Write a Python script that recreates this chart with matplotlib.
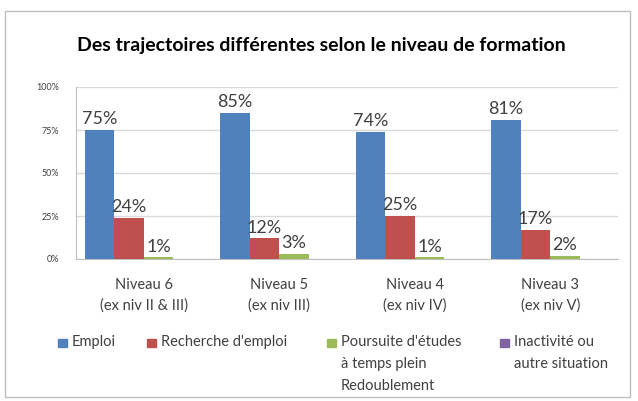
import matplotlib.pyplot as plt
import numpy as np
from matplotlib.patches import Rectangle

# data
niveaux = ['Niveau 6\n(ex niv II & III)', 'Niveau 5\n(ex niv III)',
           'Niveau 4\n(ex niv IV)', 'Niveau 3\n(ex niv V)']
emploi = [75, 85, 74, 81]
recherche = [24, 12, 25, 17]
poursuite = [1, 3, 1, 2]
inactivite = [0, 0, 0, 0]

series_names = ['Emploi', "Recherche d'emploi",
                "Poursuite d'études\nà temps plein\nRedoublement",
                'Inactivité ou\nautre situation']
colors = ['#4F81BD', '#C0504D', '#9BBB59', '#8064A2']
txt_color = '#404040'

plt.rcParams['font.family'] = ['Lato', 'DejaVu Sans']

fig = plt.figure(figsize=(6.38, 4.01), dpi=100)
ax = fig.add_axes([76 / 638, 142 / 401, 542 / 638, 172 / 401])

x = np.arange(len(niveaux))
w = 0.218
all_series = [emploi, recherche, poursuite, inactivite]
for i, vals in enumerate(all_series):
    bars = ax.bar(x + (i - 1.5) * w, vals, w, color=colors[i], zorder=3)
    if i < 3:
        ax.bar_label(bars, labels=['%d%%' % v for v in vals], padding=2,
                     fontsize=13, color=txt_color)

ax.set_ylim(0, 100)
ax.set_xlim(-0.5, 3.5)
ax.set_yticks([0, 25, 50, 75, 100])
ax.set_yticklabels(['0%', '25%', '50%', '75%', '100%'], fontsize=6.5, color=txt_color)
ax.set_xticks(x)
ax.set_xticklabels(niveaux, fontsize=10.5, color=txt_color, linespacing=1.5)
ax.tick_params(axis='both', length=0)
ax.tick_params(axis='x', pad=14)
ax.tick_params(axis='y', pad=12)
ax.grid(axis='y', color='#D9D9D9', linewidth=1, zorder=0)
for s in ['top', 'right']:
    ax.spines[s].set_visible(False)
ax.spines['left'].set_color('#BFBFBF')
ax.spines['bottom'].set_color('#BFBFBF')

fig.text(321 / 638, 1 - 46 / 401, 'Des trajectoires différentes selon le niveau de formation',
         ha='center', va='center', fontsize=14, fontweight='bold', color='black')

# legend drawn by hand so the squares line up with the first text line
leg_x = [58, 147, 327, 500]
for i, name in enumerate(series_names):
    fig.add_artist(Rectangle((leg_x[i] / 638, 1 - 347 / 401), 9 / 638, 8 / 401,
                             transform=fig.transFigure, color=colors[i]))
    fig.text((leg_x[i] + 14) / 638, 1 - 335 / 401, name, ha='left', va='top',
             fontsize=10.5, color=txt_color, linespacing=1.75)

# outer frame
fig.add_artist(Rectangle((5 / 638, 4 / 401), 625 / 638, 386 / 401, transform=fig.transFigure,
                         fill=False, edgecolor='#BFBFBF', linewidth=1))

fig.savefig('out.png', dpi=100)
